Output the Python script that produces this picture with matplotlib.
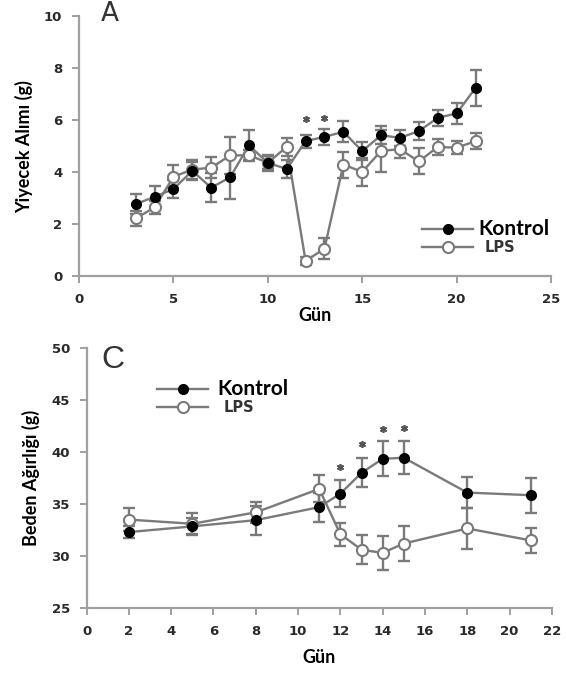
import matplotlib
matplotlib.use('Agg')
import matplotlib.pyplot as plt

# Yiyecek alimi (g) - gunluk ortalama ve SEM
gun_a = [3, 4, 5, 6, 7, 8, 9, 10, 11, 12, 13, 14, 15, 16, 17, 18, 19, 20, 21]
kontrol_a = [2.77, 3.05, 3.35, 4.05, 3.40, 3.80, 5.03, 4.36, 4.12, 5.19, 5.36,
             5.55, 4.81, 5.42, 5.32, 5.58, 6.09, 6.26, 7.24]
kontrol_a_err = [0.40, 0.40, 0.35, 0.35, 0.55, 0.85, 0.60, 0.30, 0.35, 0.25, 0.30,
                 0.40, 0.35, 0.35, 0.30, 0.35, 0.30, 0.40, 0.70]
lps_a = [2.22, 2.64, 3.82, 4.10, 4.17, 4.64, 4.65, 4.36, 4.97, 0.58, 1.06,
         4.29, 4.01, 4.82, 4.88, 4.41, 4.97, 4.94, 5.19]
lps_a_err = [0.30, 0.25, 0.45, 0.35, 0.40, 0.70, 0.20, 0.25, 0.35, 0.15, 0.40,
             0.50, 0.55, 0.80, 0.35, 0.50, 0.30, 0.25, 0.30]
yildiz_a_gun = [12, 13]
yildiz_a_y = [6.05, 6.1]

# Beden agirligi (g)
gun_c = [2, 5, 8, 11, 12, 13, 14, 15, 18, 21]
kontrol_c = [32.3, 32.85, 33.45, 34.7, 36.0, 38.0, 39.35, 39.45, 36.1, 35.85]
kontrol_c_err = [0.55, 0.8, 1.4, 1.4, 1.3, 1.4, 1.7, 1.6, 1.5, 1.7]
lps_c = [33.5, 33.1, 34.2, 36.45, 32.1, 30.6, 30.3, 31.2, 32.65, 31.5]
lps_c_err = [1.1, 1.0, 1.0, 1.3, 1.1, 1.4, 1.6, 1.7, 2.0, 1.2]
yildiz_c_gun = [12, 13, 14, 15]
yildiz_c_y = [38.6, 40.8, 42.2, 42.3]

cizgi = '#7a7a7a'
eksen = '#a0a0a0'
yazi = '#2a2a2a'
tick_font = dict(family='DejaVu Sans', weight='bold', size=9.5)
label_font = dict(family='Lato', weight='bold', size=13)

fig = plt.figure(figsize=(5.66, 6.75), dpi=100)
ax1 = fig.add_axes([0.1396, 0.591, 0.834, 0.385])
ax2 = fig.add_axes([0.153, 0.0993, 0.822, 0.385])


def seri(ax, x, y, err, dolu):
    ax.errorbar(x, y, yerr=err, color=cizgi, lw=1.7, ecolor=cizgi,
                elinewidth=1.7, capsize=4.5, capthick=1.7, zorder=2)
    if dolu:
        ax.plot(x, y, 'o', ms=7, mfc='black', mec='black', zorder=4)
    else:
        ax.plot(x, y, 'o', ms=8, mfc='white', mec=cizgi, mew=1.5, zorder=3)


def eksen_duzen(ax):
    for s in ['top', 'right']:
        ax.spines[s].set_visible(False)
    for s in ['left', 'bottom']:
        ax.spines[s].set_color(eksen)
        ax.spines[s].set_linewidth(1.6)
    ax.tick_params(direction='out', length=5, width=1.4, color=eksen, pad=7)
    for t in ax.get_xticklabels() + ax.get_yticklabels():
        t.set_fontproperties(matplotlib.font_manager.FontProperties(**tick_font))
        t.set_color(yazi)


# A paneli
seri(ax1, gun_a, kontrol_a, kontrol_a_err, True)
seri(ax1, gun_a, lps_a, lps_a_err, False)
ax1.plot(yildiz_a_gun, yildiz_a_y, linestyle='none', marker=(6, 2, 0), ms=5,
         color='#555555', mew=1.2)
ax1.set_xlim(0, 25)
ax1.set_ylim(0, 10)
ax1.set_xticks([0, 5, 10, 15, 20, 25])
ax1.set_yticks([0, 2, 4, 6, 8, 10])
eksen_duzen(ax1)
ax1.set_xlabel('Gün', labelpad=1, **label_font)
ax1.set_ylabel('Yiyecek Alımı (g)', labelpad=8, **label_font)

# C paneli
seri(ax2, gun_c, kontrol_c, kontrol_c_err, True)
seri(ax2, gun_c, lps_c, lps_c_err, False)
ax2.plot(yildiz_c_gun, yildiz_c_y, linestyle='none', marker=(6, 2, 0), ms=5,
         color='#555555', mew=1.2)
ax2.set_xlim(0, 22)
ax2.set_ylim(25, 50)
ax2.set_xticks(range(0, 23, 2))
ax2.set_yticks([25, 30, 35, 40, 45, 50])
eksen_duzen(ax2)
ax2.set_xlabel('Gün', labelpad=8, **label_font)
ax2.set_ylabel('Beden Ağırlığı (g)', labelpad=8, **label_font)

# panel harfleri
fig.text(110 / 566, 1 - 21 / 675, 'A', ha='center', va='baseline',
         family='DejaVu Sans', size=19, color='#333333')
fig.text(113 / 566, 1 - 368 / 675, 'C', ha='center', va='baseline',
         family='Liberation Sans', size=23, color='#333333')


# lejantlar
def lejant(x0, x1, y_k, y_l, xt):
    xm = (x0 + x1) / 2
    for yy, dolu in [(y_k, True), (y_l, False)]:
        fy = 1 - yy / 675
        fig.add_artist(plt.Line2D([x0 / 566, x1 / 566], [fy, fy], color=cizgi,
                                  lw=1.7, transform=fig.transFigure))
        if dolu:
            fig.add_artist(plt.Line2D([xm / 566], [fy], marker='o', ms=7,
                                      mfc='black', mec='black',
                                      transform=fig.transFigure))
        else:
            fig.add_artist(plt.Line2D([xm / 566], [fy], marker='o', ms=8,
                                      mfc='white', mec=cizgi, mew=1.5,
                                      transform=fig.transFigure))
    fig.text(xt / 566, 1 - y_k / 675, 'Kontrol', va='center', ha='left',
             family='Lato', weight='bold', size=15, color='black')
    fig.text(xt / 566 + 0.012, 1 - y_l / 675, 'LPS', va='center', ha='left',
             family='DejaVu Sans', weight='bold', size=10.5, color='#333333')


lejant(422, 473, 229, 247, 478)
lejant(157, 208, 389, 407, 217)

fig.savefig('out.png', dpi=100)
